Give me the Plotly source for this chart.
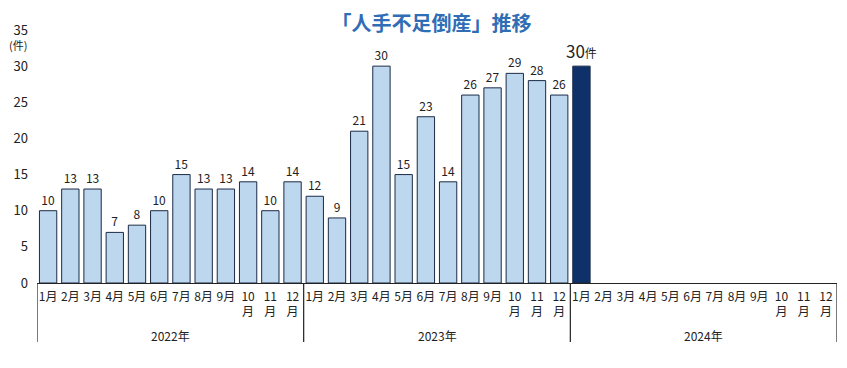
import plotly.graph_objects as go

years = ["2022年", "2023年", "2024年"]
months = ["1月", "2月", "3月", "4月", "5月", "6月", "7月", "8月", "9月", "10<br>月", "11<br>月", "12<br>月"]
v2022 = [10, 13, 13, 7, 8, 10, 15, 13, 13, 14, 10, 14]
v2023 = [12, 9, 21, 30, 15, 23, 14, 26, 27, 29, 28, 26]
v2024 = [30, None, None, None, None, None, None, None, None, None, None, None]
y_ticks = [0, 5, 10, 15, 20, 25, 30, 35]

values = v2022 + v2023 + v2024
n = len(values)
x = list(range(n))
last_idx = max(i for i, v in enumerate(values) if v is not None)

colors = ["#BDD7EE" if i != last_idx else "#0E3169" for i in range(n)]
texts = ["" if v is None else
         (f"{v}<span style='font-size:12px'>件</span>" if i == last_idx else str(v))
         for i, v in enumerate(values)]
sizes = [17 if i == last_idx else 12 for i in range(n)]

font = "Noto Sans CJK JP"
fig = go.Figure()
fig.add_trace(go.Bar(
    x=x, y=values,
    marker=dict(color=colors, line=dict(color="#1B2A47", width=1)),
    width=0.78,
    text=texts, textposition="outside", cliponaxis=False, constraintext="none",
    textfont=dict(size=sizes, color="#222222", family=font),
    hoverinfo="skip",
))

# the page body adds an 8px offset, margins compensate for it
fig.update_layout(
    width=847, height=368,
    margin=dict(l=29, r=18, t=22, b=93),
    paper_bgcolor="white", plot_bgcolor="white",
    showlegend=False,
    font=dict(family=font, color="#222222"),
    title=dict(text="<b>「人手不足倒産」推移</b>", x=0.5, xanchor="center", y=0.957, yanchor="middle",
               font=dict(size=20, color="#2F6DB5", family=font)),
)
fig.update_yaxes(range=[0, 35], tickvals=y_ticks, showgrid=False, zeroline=False, showline=False,
                 automargin=False,
                 tickfont=dict(size=13, color="#222222"), ticks="", ticklabelstandoff=8)
fig.update_xaxes(range=[-0.5, n - 0.5], tickvals=x, ticktext=months * len(years), automargin=False,
                 tickangle=0, showgrid=False, zeroline=False, showline=True, linecolor="#222222", linewidth=1.2,
                 ticks="", tickfont=dict(size=12, color="#222222"), ticklabelstandoff=2)

# (件) unit
fig.add_annotation(x=0, xref="paper", xanchor="right", xshift=-8, y=35, yref="y", yshift=-15,
                   text="(件)", showarrow=False, font=dict(size=11, color="#222222"))

# Group dividers and year labels
for g, yr in enumerate(years):
    start = g * len(months) - 0.5
    fig.add_shape(type="line", x0=start, x1=start, xref="x", y0=0, y1=-0.233, yref="paper",
                  line=dict(color="#222222", width=1.2))
    fig.add_annotation(x=start + len(months) / 2, xref="x", y=-0.206, yref="paper", yanchor="middle",
                       text=yr, showarrow=False, font=dict(size=12, color="#222222"))
end = len(years) * len(months) - 0.5
fig.add_shape(type="line", x0=end, x1=end, xref="x", y0=0, y1=-0.233, yref="paper",
              line=dict(color="#222222", width=1.2))

fig.write_html("out.html")
